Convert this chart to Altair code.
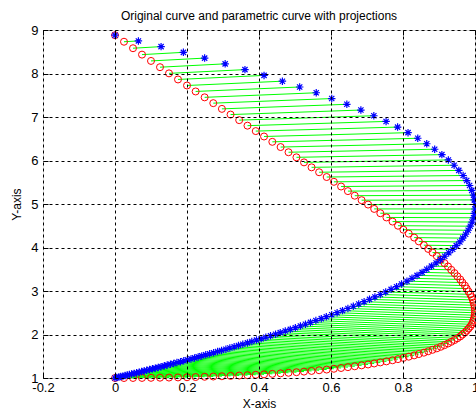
import altair as alt
import pandas as pd

# parametric curve (red circles)
red_x = [0, .025, .050, .075, .100, .125, .150, .175, .200, .224, .249, .273, .297, .321, .345, .368,
         .391, .414, .437, .460, .482, .504, .525, .546, .567, .588, .608, .628, .647, .666, .685, .703,
         .720, .737, .754, .771, .786, .801, .816, .831, .844, .858, .870, .882, .894, .905, .915, .925,
         .934, .943, .951, .959, .965, .972, .977, .982, .987, .991, .994, .996, .998, .999, 1.000,
         1.000, .999, .998, .996, .994, .991, .987, .982, .977, .972, .965, .959, .951, .943, .934,
         .925, .915, .905, .894, .882, .870, .858, .844, .831, .816, .801, .786, .771, .754, .737,
         .720, .703, .685, .666, .647, .628, .608, .588, .567, .546, .525, .504, .482, .460, .437,
         .414, .391, .368, .345, .321, .297, .273, .249, .224, .200, .175, .150, .125, .100, .075,
         .050, .025, 0]
red_y = [1.000, 1.000, 1.001, 1.002, 1.004, 1.007, 1.010, 1.013, 1.017, 1.022, 1.028, 1.034, 1.040,
         1.048, 1.056, 1.065, 1.074, 1.084, 1.095, 1.107, 1.120, 1.133, 1.147, 1.162, 1.178, 1.194,
         1.212, 1.230, 1.249, 1.269, 1.290, 1.311, 1.334, 1.358, 1.382, 1.408, 1.434, 1.462, 1.490,
         1.520, 1.550, 1.582, 1.614, 1.648, 1.682, 1.718, 1.755, 1.793, 1.832, 1.872, 1.913, 1.955,
         1.999, 2.043, 2.089, 2.136, 2.184, 2.234, 2.284, 2.336, 2.389, 2.443, 2.499, 2.555, 2.613,
         2.673, 2.733, 2.795, 2.858, 2.923, 2.988, 3.055, 3.124, 3.194, 3.265, 3.338, 3.411, 3.487,
         3.564, 3.642, 3.721, 3.802, 3.884, 3.968, 4.053, 4.140, 4.228, 4.318, 4.409, 4.501, 4.596,
         4.691, 4.788, 4.887, 4.987, 5.088, 5.191, 5.296, 5.402, 5.510, 5.620, 5.730, 5.843, 5.957,
         6.073, 6.190, 6.309, 6.429, 6.552, 6.676, 6.801, 6.928, 7.056, 7.187, 7.318, 7.452, 7.587,
         7.724, 7.863, 8.003, 8.145, 8.289, 8.434, 8.581, 8.730, 8.880]

# original curve points (blue stars), projections of the red points
blue_x = [0, .005, .011, .016, .022, .028, .034, .040, .046, .053, .060, .067, .074, .081, .088, .096,
          .104, .112, .120, .128, .137, .145, .154, .163, .172, .182, .191, .201, .211, .221, .231,
          .241, .252, .263, .274, .285, .296, .308, .319, .331, .343, .355, .368, .380, .393, .406,
          .419, .432, .446, .459, .473, .487, .501, .515, .529, .543, .558, .573, .587, .602, .617,
          .632, .647, .662, .677, .692, .707, .722, .737, .752, .767, .782, .796, .811, .825, .839,
          .853, .866, .879, .892, .904, .916, .927, .938, .948, .958, .966, .974, .981, .987, .992,
          .996, .998, 1.000, 1.000, .998, .996, .991, .985, .977, .967, .955, .942, .926, .908, .888,
          .866, .841, .814, .785, .753, .719, .683, .644, .602, .559, .513, .465, .414, .361, .306,
          .249, .190, .128, .065, 0]
blue_y = [1.000, 1.010, 1.021, 1.032, 1.043, 1.055, 1.067, 1.080, 1.093, 1.106, 1.120, 1.134, 1.148,
          1.163, 1.178, 1.194, 1.210, 1.227, 1.244, 1.261, 1.279, 1.297, 1.316, 1.335, 1.355, 1.375,
          1.396, 1.418, 1.439, 1.462, 1.485, 1.508, 1.532, 1.557, 1.582, 1.608, 1.634, 1.662, 1.689,
          1.718, 1.747, 1.777, 1.807, 1.839, 1.871, 1.903, 1.937, 1.971, 2.007, 2.043, 2.079, 2.117,
          2.156, 2.196, 2.236, 2.278, 2.320, 2.364, 2.409, 2.454, 2.501, 2.549, 2.599, 2.649, 2.701,
          2.754, 2.808, 2.863, 2.920, 2.978, 3.038, 3.099, 3.162, 3.226, 3.292, 3.359, 3.428, 3.499,
          3.571, 3.645, 3.721, 3.799, 3.878, 3.959, 4.043, 4.128, 4.216, 4.305, 4.396, 4.490, 4.585,
          4.683, 4.783, 4.885, 4.989, 5.094, 5.203, 5.313, 5.425, 5.539, 5.655, 5.772, 5.891, 6.013,
          6.135, 6.259, 6.385, 6.511, 6.640, 6.768, 6.898, 7.029, 7.160, 7.292, 7.424, 7.557, 7.690,
          7.823, 7.956, 8.089, 8.222, 8.354, 8.486, 8.618, 8.749, 8.880]

x_ticks = [-0.2, 0, 0.2, 0.4, 0.6, 0.8, 1]
y_ticks = [1, 2, 3, 4, 5, 6, 7, 8, 9]

df = pd.DataFrame({"rx": red_x, "ry": red_y, "bx": blue_x, "by": blue_y})

FONT = "Liberation Sans"
xscale = alt.Scale(domain=[-0.2, 1], nice=False, zero=False)
yscale = alt.Scale(domain=[1, 9], nice=False, zero=False)

common = dict(domain=False, tickColor="black", tickSize=5, tickWidth=1, offset=-5,
              labelFont=FONT, labelFontSize=13, labelColor="black", labelFlush=False,
              labelOverlap=False, titleFont=FONT, titleFontSize=12, titleFontWeight="normal",
              titleColor="black", zindex=1)

x_axis = alt.Axis(orient="bottom", values=x_ticks, grid=True, gridColor="black", gridDash=[3, 3],
                  gridWidth=1, labelPadding=3, labelExpr="toString(datum.value)",
                  title="X-axis", titlePadding=4, **common)
y_axis = alt.Axis(orient="left", values=y_ticks, grid=True, gridColor="black", gridDash=[3, 3],
                  gridWidth=1, labelPadding=5, title="Y-axis", titlePadding=7, **common)
x_top = alt.Axis(orient="top", values=x_ticks, grid=False, labels=False, title=None, **common)
y_right = alt.Axis(orient="right", values=y_ticks, grid=False, labels=False, title=None, **common)

lines = alt.Chart(df).mark_rule(color="#00ff00", strokeWidth=1).encode(
    x=alt.X("rx:Q", scale=xscale, axis=x_axis),
    y=alt.Y("ry:Q", scale=yscale, axis=y_axis),
    x2="bx:Q",
    y2="by:Q",
)

red = alt.Chart(df).mark_point(shape="circle", filled=False, color="#ff0000", size=49,
                               strokeWidth=1, opacity=1).encode(
    x=alt.X("rx:Q", scale=xscale, axis=x_top),
    y=alt.Y("ry:Q", scale=yscale, axis=y_right),
)

star = "M0,-1L0,1M-1,0L1,0M-0.7,-0.7L0.7,0.7M-0.7,0.7L0.7,-0.7"
blue = alt.Chart(df).mark_point(shape=star, filled=False, color="#0000ff", size=56,
                                strokeWidth=1.2, opacity=1).encode(
    x=alt.X("bx:Q", scale=xscale, axis=None),
    y=alt.Y("by:Q", scale=yscale, axis=None),
)

chart = alt.layer(lines, red, blue).resolve_axis(x="independent", y="independent").properties(
    width=432, height=348,
    padding={"left": 43, "top": 30, "right": 1, "bottom": 38},
    autosize=alt.AutoSizeParams(type="none"),
    title=alt.TitleParams("Original curve and parametric curve with projections", font=FONT,
                          fontSize=12, fontWeight="normal", color="black", anchor="middle",
                          offset=1),
).configure_view(stroke="black", strokeWidth=1).configure(background="white")

chart.save("out.html", embed_options={"renderer": "svg", "actions": False})
